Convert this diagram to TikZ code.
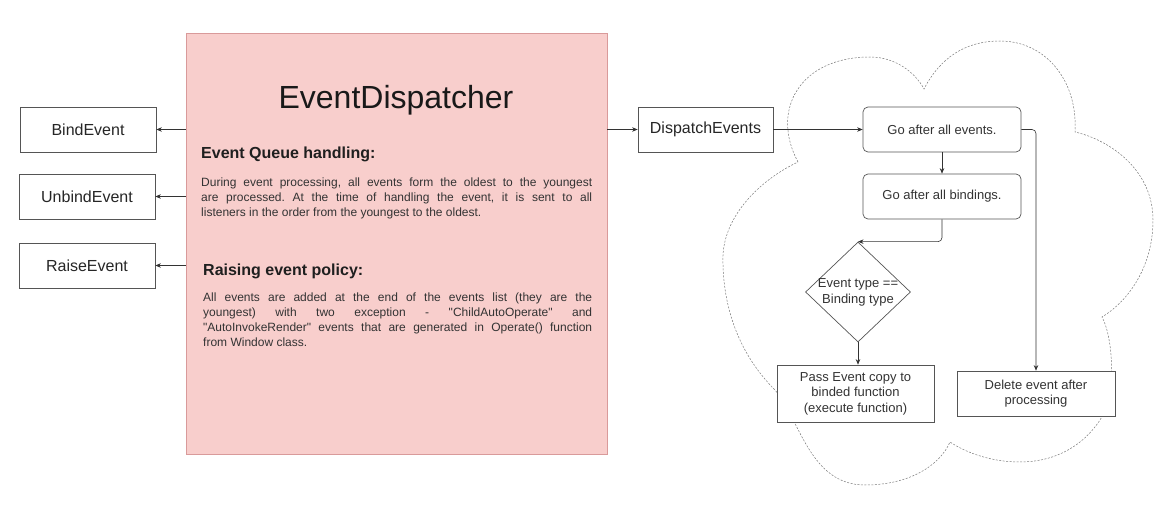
\documentclass[tikz,border=0pt]{standalone}
\usepackage{fontspec}
\setmainfont{Liberation Sans}[Ligatures=TeXOff]
\usetikzlibrary{shapes.geometric,arrows.meta}
\definecolor{pinkfill}{HTML}{F8CECC}
\definecolor{pinkdraw}{HTML}{D99A9A}
\definecolor{txt}{HTML}{333333}
\definecolor{edge}{HTML}{555555}
\definecolor{cloudc}{HTML}{7A7A7A}
\frenchspacing
\begin{document}
\begin{tikzpicture}[x=1pt,y=1pt,
  box/.style={draw=edge, line width=0.7pt, fill=white, minimum width=136pt, minimum height=45pt, inner sep=0pt, font=\fontsize{16}{19}\selectfont, text=black!85},
  rbox/.style={box, rounded corners=5pt, minimum width=158pt, font=\fontsize{13}{15.5}\selectfont, text=txt},
  sbox/.style={box, minimum width=158pt, font=\fontsize{13}{15.5}\selectfont, text=txt, align=center},
  arr/.style={draw=black!80, line width=0.6pt, -{Stealth[length=5.5pt,width=4.5pt]}},
  head/.style={anchor=base west, inner sep=0pt, font=\bfseries\fontsize{16}{19}\selectfont, text=black!88},
  para/.style={anchor=north west, inner sep=0pt, text width=391pt, align=justify, font=\fontsize{12}{15}\selectfont, text=txt},
  cloudline/.style={draw=cloudc, line width=0.5pt, dash pattern=on 2pt off 1.5pt}
]
\useasboundingbox (0,0) rectangle (1165,-505);

% cloud
\draw[cloudline] (798,-162)
  .. controls (770,-110) and (800,-57) .. (870,-57)
  .. controls (895,-57) and (915,-72) .. (924,-89)
  .. controls (940,-58) and (965,-41) .. (1000,-41)
  .. controls (1045,-41) and (1078,-80) .. (1075,-132)
  .. controls (1110,-140) and (1153,-170) .. (1153,-220)
  .. controls (1153,-265) and (1130,-300) .. (1102,-317)
  .. controls (1112,-335) and (1118,-390) .. (1100,-420)
  .. controls (1080,-450) and (1050,-462) .. (1020,-462)
  .. controls (990,-462) and (965,-452) .. (950,-442)
  .. controls (940,-465) and (910,-485) .. (865,-485)
  .. controls (810,-485) and (800,-420) .. (775,-390)
  .. controls (735,-350) and (722,-300) .. (723,-255)
  .. controls (725,-215) and (760,-180) .. cycle;

% main pink box
\node[draw=pinkdraw, fill=pinkfill, line width=0.7pt, minimum width=421pt, minimum height=421pt, inner sep=0pt] (disp) at (396.5,-243.5) {};
\node[anchor=base, inner sep=0pt, font=\fontsize{32}{38}\selectfont, text=black!90] (title) at (396,-108.5) {EventDispatcher};
\node[head] (h1) at (201,-159) {Event Queue handling:};
\node[para] (p1) at (201,-177.5) {During event processing, all events form the oldest to the youngest\linebreak are processed. At the time of handling the event, it is sent to all\linebreak listeners in the order from the youngest to the oldest.};
\node[head] (h2) at (203,-276) {Raising event policy:};
\node[para, text width=389pt] (p2) at (203,-292.5) {All events are added at the end of the events list (they are the\linebreak youngest) with two exception - "ChildAutoOperate" and\linebreak "AutoInvokeRender" events that are generated in Operate() function\linebreak from Window class.};

% left boxes
\node[box] (bind) at (88,-129.5) {BindEvent};
\node[box] (unbind) at (87,-196.5) {UnbindEvent};
\node[box] (raise) at (87,-265.5) {RaiseEvent};
\draw[arr] (disp.west |- bind.east) -- (bind.east);
\draw[arr] (disp.west |- unbind.east) -- (unbind.east);
\draw[arr] (disp.west |- raise.east) -- (raise.east);

% right side
\node[box, minimum width=135pt] (dispatch) at (705.5,-129.5) {DispatchEvents};
\draw[arr] (disp.east |- dispatch.west) -- (dispatch.west);
\node[rbox] (goev) at (942,-129.5) {Go after all events.};
\node[rbox] (gobind) at (942,-196.5) {Go after all bindings.};
\draw[arr] (dispatch.east) -- (goev.west);
\draw[arr] (goev.south) -- (gobind.north);

\node[diamond, draw=edge, line width=0.7pt, fill=white, minimum width=105pt, minimum height=100pt, inner sep=0pt] (dia) at (858,-292) {};
\node[inner sep=0pt, font=\fontsize{13}{16}\selectfont, text=txt, align=center] (diatxt) at (dia.center) {Event type ==\\Binding type};
\draw[arr, rounded corners=4pt] (gobind.south) |- (dia.north);

\node[sbox, minimum width=157pt, minimum height=57pt] (pass) at (855.5,-393.5) {Pass Event copy to\\binded function\\(execute function)};
\node[sbox] (del) at (1036,-393.5) {Delete event after\\processing};
\draw[arr] (dia.south) -- (dia.south |- pass.north);
\draw[arr, rounded corners=4pt] (goev.east) -| (del.north);
\end{tikzpicture}
\end{document}
